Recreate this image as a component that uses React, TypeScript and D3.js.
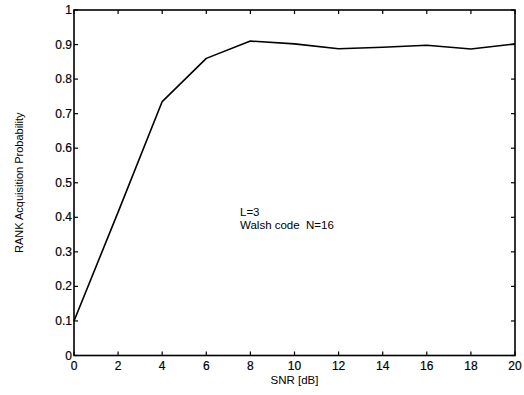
import React from "react";
import * as d3 from "d3";

const snr = [0, 2, 4, 6, 8, 10, 12, 14, 16, 18, 20];
const prob = [0.1, 0.415, 0.735, 0.86, 0.91, 0.902, 0.888, 0.892, 0.898, 0.887, 0.902];
const xTicks = [0, 2, 4, 6, 8, 10, 12, 14, 16, 18, 20];
const yTicks = [0, 0.1, 0.2, 0.3, 0.4, 0.5, 0.6, 0.7, 0.8, 0.9, 1];
const annotations = ["L=3", "Walsh code  N=16"];

export default function App() {
  const W = 524, H = 395;
  const left = 74, right = 515, top = 10, bottom = 355.5;
  const x = d3.scaleLinear().domain([0, 20]).range([left, right]);
  const y = d3.scaleLinear().domain([0, 1]).range([bottom, top]);
  const line = d3.line<number>().x((_, i) => x(snr[i])).y((d) => y(d));
  const font = "'Liberation Sans', Arial, sans-serif";
  const tl = 4;
  return (
    <svg width={W} height={H} style={{ position: "absolute", left: 0, top: 0 }} fontFamily={font}>
      <rect width={W} height={H} fill="#fff" />
      <rect x={left} y={top} width={right - left} height={bottom - top} fill="none" stroke="#000" strokeWidth={1.6} />
      {xTicks.map((t) => (
        <g key={"x" + t}>
          <line x1={x(t)} x2={x(t)} y1={bottom} y2={bottom - tl} stroke="#000" strokeWidth={1.2} />
          <line x1={x(t)} x2={x(t)} y1={top} y2={top + tl} stroke="#000" strokeWidth={1.2} />
          <text x={x(t)} y={bottom + 14} textAnchor="middle" fontSize={12} fill="#000" stroke="#000" strokeWidth={0.2}>{t}</text>
        </g>
      ))}
      {yTicks.map((t) => (
        <g key={"y" + t}>
          <line x1={left} x2={left + tl} y1={y(t)} y2={y(t)} stroke="#000" strokeWidth={1.2} />
          <line x1={right} x2={right - tl} y1={y(t)} y2={y(t)} stroke="#000" strokeWidth={1.2} />
          <text x={left - 2} y={y(t) + 4} textAnchor="end" fontSize={12} fill="#000" stroke="#000" strokeWidth={0.2}>{String(t)}</text>
        </g>
      ))}
      <path d={line(prob) || ""} fill="none" stroke="#000" strokeWidth={1.6} strokeLinejoin="round" />
      <text x={(left + right) / 2} y={384} textAnchor="middle" fontSize={11.5} fill="#000">SNR [dB]</text>
      <text transform={`translate(23,${(top + bottom) / 2}) rotate(-90)`} textAnchor="middle" fontSize={11} fill="#000">RANK Acquisition Probability</text>
      {annotations.map((a, i) => (
        <text key={a} x={240} y={216 + i * 13} fontSize={11.5} fill="#000" style={{ whiteSpace: "pre" }}>{a}</text>
      ))}
    </svg>
  );
}
